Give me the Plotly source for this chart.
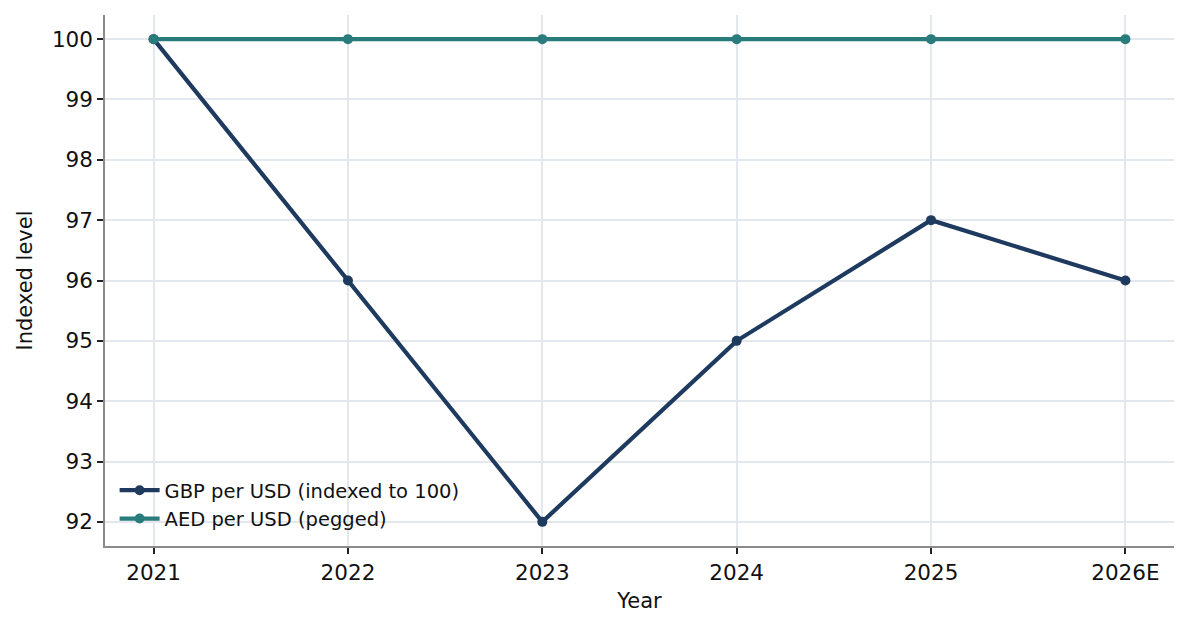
import plotly.graph_objects as go

years = ["2021", "2022", "2023", "2024", "2025", "2026E"]
gbp_index = [100, 96, 92, 95, 97, 96]
aed_index = [100, 100, 100, 100, 100, 100]
y_ticks = [92, 93, 94, 95, 96, 97, 98, 99, 100]

x_pos = list(range(len(years)))

fig = go.Figure()
fig.add_trace(go.Scatter(
    x=x_pos, y=gbp_index, mode="lines+markers",
    name="GBP per USD (indexed to 100)",
    line=dict(color="#1f3a5f", width=4.2),
    marker=dict(size=10, color="#1f3a5f"),
))
fig.add_trace(go.Scatter(
    x=x_pos, y=aed_index, mode="lines+markers",
    name="AED per USD (pegged)",
    line=dict(color="#2a7b7b", width=4.2),
    marker=dict(size=10, color="#2a7b7b"),
))

axis_common = dict(
    showline=True, linecolor="#8a8a8a", linewidth=1.5,
    ticks="outside", ticklen=6, tickcolor="#222222", tickwidth=1.5,
    showgrid=True, gridcolor="#e3e7ee", gridwidth=1.5,
    zeroline=False, tickfont=dict(size=21.5, color="#111111"),
    title_font=dict(size=21, color="#111111"),
)

fig.update_xaxes(
    tickvals=x_pos, ticktext=years, range=[-0.25, 5.25],
    title_text="Year", title_standoff=10, **axis_common,
)
fig.update_yaxes(
    tickvals=y_ticks, range=[91.6, 100.4],
    title_text="Indexed level", title_standoff=14, **axis_common,
)

fig.update_layout(
    width=1189, height=630,
    plot_bgcolor="white", paper_bgcolor="white",
    font=dict(family="DejaVu Sans", color="#111111"),
    margin=dict(l=97, r=23, t=7, b=92),
    showlegend=True,
    legend=dict(
        x=0.009, y=0.015, xanchor="left", yanchor="bottom",
        bgcolor="rgba(255,255,255,0)", font=dict(size=19.5),
        tracegroupgap=0, itemwidth=40,
    ),
)

fig.write_html("out.html")
